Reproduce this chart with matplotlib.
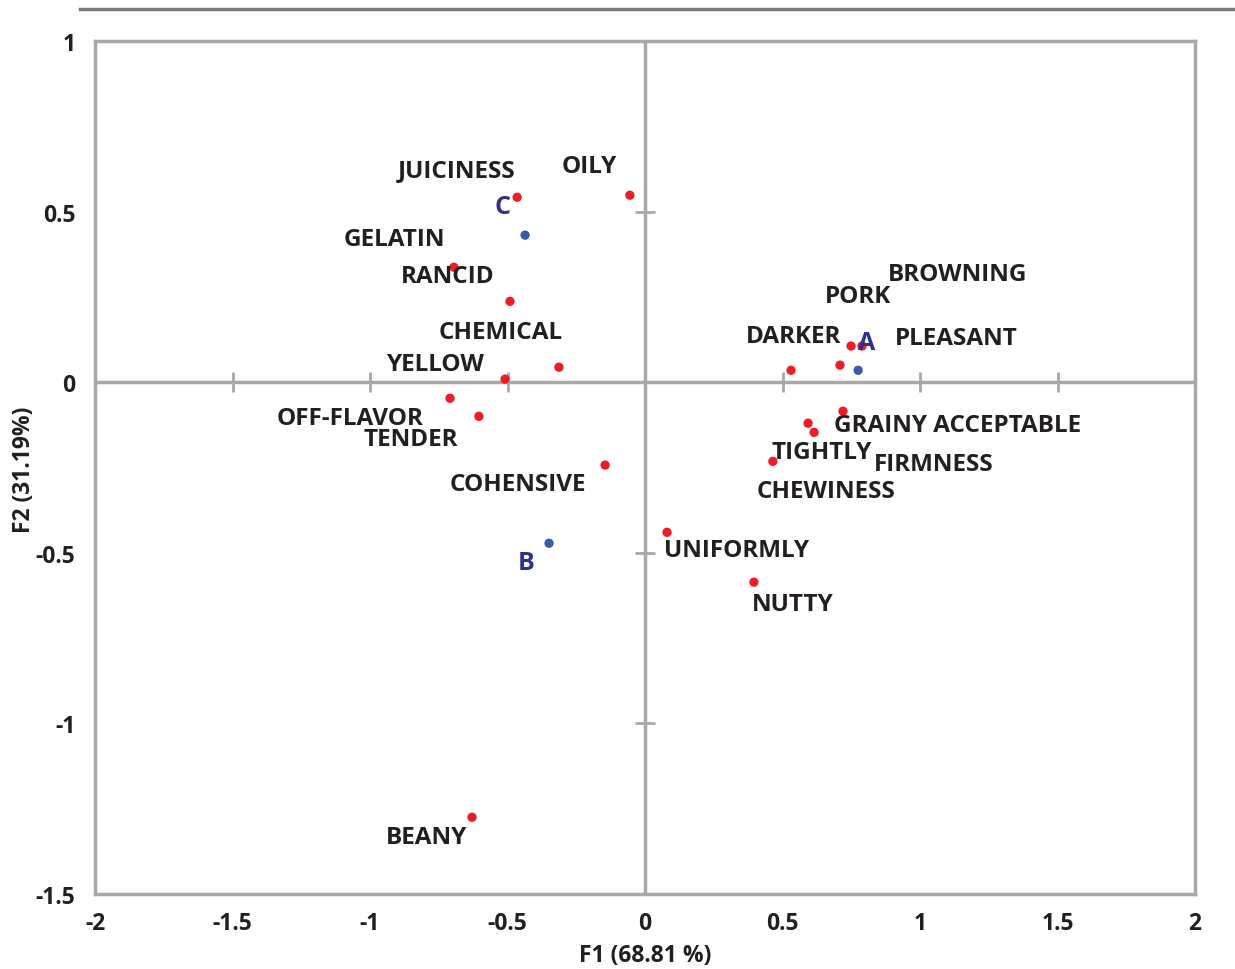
import matplotlib
matplotlib.use("Agg")
import matplotlib.pyplot as plt
from matplotlib.lines import Line2D

plt.rcParams['font.family'] = ['Open Sans', 'DejaVu Sans']

# Attribute points (red)
attr_x = [-0.465, -0.055, -0.695, -0.491, -0.313, -0.509, -0.709, -0.604, -0.145,
          0.080, 0.396, -0.629, 0.531, 0.709, 0.749, 0.789, 0.720, 0.593, 0.615, 0.465]
attr_y = [0.542, 0.548, 0.337, 0.237, 0.044, 0.009, -0.047, -0.100, -0.243,
          -0.440, -0.586, -1.275, 0.035, 0.050, 0.106, 0.106, -0.085, -0.120, -0.147, -0.232]

# Sample points (blue)
samp_x = [0.775, -0.349, -0.436]
samp_y = [0.035, -0.472, 0.431]
samp_names = ["A", "B", "C"]
samp_lab_x = [0.807, -0.433, -0.52]
samp_lab_y = [0.123, -0.522, 0.522]

# Attribute labels
labels = ["JUICINESS", "OILY", "GELATIN", "RANCID", "CHEMICAL", "YELLOW", "OFF-FLAVOR",
          "TENDER", "COHENSIVE", "UNIFORMLY", "NUTTY", "BEANY", "BROWNING", "PORK",
          "DARKER", "PLEASANT", "GRAINY ACCEPTABLE", "TIGHTLY", "FIRMNESS", "CHEWINESS"]
lab_x = [-0.684, -0.204, -0.913, -0.716, -0.524, -0.76, -1.073, -0.851, -0.462,
         0.331, 0.538, -0.796, 1.138, 0.775, 0.542, 1.131, 1.138, 0.644, 1.051, 0.658]
lab_y = [0.627, 0.639, 0.425, 0.317, 0.152, 0.059, -0.100, -0.161, -0.293,
         -0.487, -0.645, -1.328, 0.322, 0.258, 0.141, 0.135, -0.120, -0.199, -0.234, -0.314]

x_ticks = [-2, -1.5, -1, -0.5, 0, 0.5, 1, 1.5, 2]
y_ticks = [1, 0.5, 0, -0.5, -1, -1.5]
x_ticklabels = ["-2", "-1.5", "-1", "-0.5", "0", "0.5", "1", "1.5", "2"]
y_ticklabels = ["1", "0.5", "0", "-0.5", "-1", "-1.5"]

grey = "#a8a8a8"
txt = "#231f20"

fig = plt.figure(figsize=(12.35, 9.70), dpi=100)
ax = fig.add_axes([95/1235, 1-895/970, 1100/1235, 853/970])
ax.set_xlim(-2, 2)
ax.set_ylim(-1.5, 1)

for s in ax.spines.values():
    s.set_color(grey)
    s.set_linewidth(2.5)

ax.axhline(0, color=grey, lw=2.5, zorder=1)
ax.axvline(0, color=grey, lw=2.5, zorder=1)
# ticks on the zero lines
zx = [t for t in x_ticks if t not in (-2, 0, 2)]
ax.plot(zx, [0]*len(zx), ls='none', marker='|', ms=14, mew=2, color=grey, zorder=1)
zy = [0.5, -0.5, -1]
ax.plot([0]*len(zy), zy, ls='none', marker='_', ms=14, mew=2, color=grey, zorder=1)

ax.scatter(attr_x, attr_y, s=45, color="#ee1c25", edgecolors='none', zorder=3)
ax.scatter(samp_x, samp_y, s=45, color="#3b5aa8", edgecolors='none', zorder=3)

for n, x, y in zip(labels, lab_x, lab_y):
    ax.annotate(n, (x, y), xytext=(0, -1.5), textcoords='offset points',
                ha='center', va='center', fontsize=17.5, fontweight='bold', color=txt, zorder=4)
for n, x, y in zip(samp_names, samp_lab_x, samp_lab_y):
    ax.annotate(n, (x, y), xytext=(0, -1.5), textcoords='offset points',
                ha='center', va='center', fontsize=18, fontweight='bold', color="#2e3192", zorder=4)

ax.set_xticks(x_ticks)
ax.set_xticklabels(x_ticklabels)
ax.set_yticks(y_ticks)
ax.set_yticklabels(y_ticklabels)
ax.tick_params(length=0, labelsize=16.5, labelcolor=txt)
ax.tick_params(axis='x', pad=12)
ax.tick_params(axis='y', pad=14)
for lab in ax.get_xticklabels() + ax.get_yticklabels():
    lab.set_fontweight('bold')

fig.text(645/1235, 1-956/970, "F1 (68.81 %)", ha='center', va='center',
         fontsize=16.5, fontweight='bold', color=txt)
fig.text(24/1235, 1-470/970, "F2 (31.19%)", ha='center', va='center', rotation=90,
         fontsize=16.5, fontweight='bold', color=txt)

fig.add_artist(Line2D([80/1235, 1.0], [1-10/970, 1-10/970], color="#7a7a7a", lw=2.5))

fig.savefig("out.png", dpi=100)
